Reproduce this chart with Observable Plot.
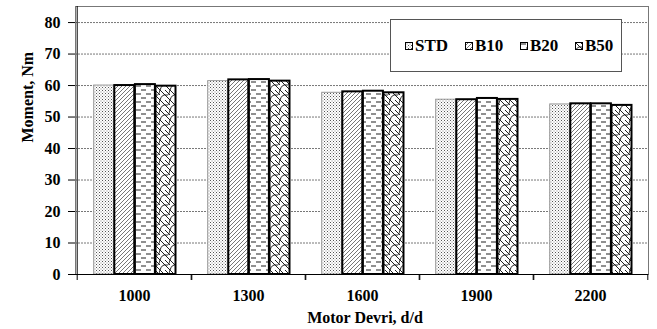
<!DOCTYPE html>
<html>
<head>
<meta charset="utf-8">
<script src="https://cdn.jsdelivr.net/npm/d3@7"></script>
<script src="https://cdn.jsdelivr.net/npm/@observablehq/plot@0.6"></script>
<style>
  html, body { margin: 0; padding: 0; background: #fff; }
  #wrap { position: relative; width: 657px; height: 329px; font-family: "Liberation Serif", "DejaVu Serif", serif; }
  #wrap svg text { font-family: "Liberation Serif", "DejaVu Serif", serif; }
  #legend { position: absolute; left: 390px; top: 19px; width: 230px; height: 51px; background: #fff; border: 1px solid #555;
            font-weight: bold; font-size: 17px; color: #000; box-sizing: content-box; }
  #legend .item { position: absolute; top: 17px; display: flex; align-items: center; height: 18px; }
  #legend .item svg { margin-right: 2px; }
</style>
</head>
<body>
<svg width="0" height="0" style="position:absolute">
  <defs>
    <pattern id="pSTD" width="3" height="3" patternUnits="userSpaceOnUse">
      <rect width="3" height="3" fill="#fff"/>
      <rect x="0" y="0" width="1" height="1" fill="#555"/>
      <rect x="1.5" y="1.5" width="1" height="1" fill="#888"/>
    </pattern>
    <pattern id="pB10" width="4" height="4" patternUnits="userSpaceOnUse">
      <rect width="4" height="4" fill="#fff"/>
      <path d="M-1,5 L5,-1 M-1,1 L1,-1 M3,5 L5,3" stroke="#666" stroke-width="0.9"/>
    </pattern>
    <pattern id="pB20" width="10" height="8" patternUnits="userSpaceOnUse">
      <rect width="10" height="8" fill="#fff"/>
      <path d="M1,2 H6 M6,6 H11 M-4,6 H1" stroke="#222" stroke-width="1.2"/>
    </pattern>
    <pattern id="pB50" width="10" height="10" patternUnits="userSpaceOnUse">
      <rect width="10" height="10" fill="#fff"/>
      <path d="M0,0 L10,10 M-5,5 L0,10 M5,0 L10,5" stroke="#222" stroke-width="1"/>
      <path d="M0,10 Q2,4 6,5 Q9,6 10,0" fill="none" stroke="#222" stroke-width="1"/>
    </pattern>
  </defs>
</svg>
<div id="wrap"></div>
<script>
const rpm = ["1000", "1300", "1600", "1900", "2200"];
const fuels = ["STD", "B10", "B20", "B50"];
const STD = [60.0, 61.4, 57.7, 55.5, 54.0];
const B10 = [60.0, 61.8, 58.0, 55.5, 54.2];
const B20 = [60.3, 61.9, 58.2, 55.9, 54.2];
const B50 = [59.8, 61.4, 57.7, 55.6, 53.7];
const yTicks = [0, 10, 20, 30, 40, 50, 60, 70, 80];
const xTitle = "Motor Devri, d/d";
const yTitle = "Moment, Nm";

const series = {STD, B10, B20, B50};
const fills = {STD: "url(#pSTD)", B10: "url(#pB10)", B20: "url(#pB20)", B50: "url(#pB50)"};
const strokes = {STD: "#999", B10: "#000", B20: "#000", B50: "#000"};
const strokeW = {STD: 1, B10: 2, B20: 2, B50: 2};
const legendLeft = {STD: 14, B10: 74, B20: 129, B50: 184};

const W = 657, H = 329;
const mL = 75, mR = 9, mT = 6, mB = 55;
const step = (W - mL - mR) / rpm.length;
const half = step / 2;
const gap = 16.7, bw = 20.6;

const barMarks = fuels.map((f, j) => Plot.barY(
  rpm.map((r, i) => ({rpm: r, v: series[f][i]})),
  {x: "rpm", y: "v", fill: fills[f], stroke: strokes[f], strokeWidth: strokeW[f],
   insetLeft: gap + j * bw, insetRight: step - gap - (j + 1) * bw}
));

const plot = Plot.plot({
  width: W, height: H,
  marginLeft: mL, marginRight: mR, marginTop: mT, marginBottom: mB,
  style: {fontFamily: "'Liberation Serif', 'DejaVu Serif', serif", fontSize: "16px", fontWeight: "bold", color: "#000", background: "#fff"},
  x: {domain: rpm, padding: 0, axis: null},
  y: {domain: [0, 85.1], axis: null},
  marks: [
    Plot.gridY(yTicks.filter(d => d > 0), {stroke: "#777", strokeOpacity: 1, strokeDasharray: "2,1"}),
    Plot.frame({stroke: "#777"}),
    ...barMarks,
    Plot.ruleY([0], {stroke: "#000", strokeWidth: 1.2}),
    Plot.ruleX([rpm[0]], {dx: -half, stroke: "#000", strokeWidth: 1}),
    Plot.axisY({ticks: yTicks, tickSize: 7, tickPadding: 8, label: null, stroke: "#000", fontSize: 16}),
    Plot.axisX({tickSize: 6, dx: -half, text: null, label: null, stroke: "#000"}),
    Plot.axisX({tickSize: 6, dx: half, text: null, label: null, stroke: "#000"}),
    Plot.axisX({tickSize: 0, tickPadding: 15, label: null, fontSize: 16}),
    Plot.text([yTitle], {frameAnchor: "left", text: d => d, rotate: -90, dx: -48, dy: 2, fontSize: 16, fontWeight: "bold"}),
    Plot.text([xTitle], {frameAnchor: "bottom", text: d => d, dy: 48, dx: 3, fontSize: 16, fontWeight: "bold"})
  ]
});

const wrap = document.getElementById("wrap");
wrap.appendChild(plot);

const legend = document.createElement("div");
legend.id = "legend";
for (const f of fuels) {
  const item = document.createElement("div");
  item.className = "item";
  item.style.left = legendLeft[f] + "px";
  item.innerHTML = `<svg width="8" height="8"><rect x="0.5" y="0.5" width="7" height="7" fill="${fills[f]}" stroke="#000" stroke-width="1"/></svg><span>${f}</span>`;
  legend.appendChild(item);
}
wrap.appendChild(legend);
</script>
</body>
</html>
